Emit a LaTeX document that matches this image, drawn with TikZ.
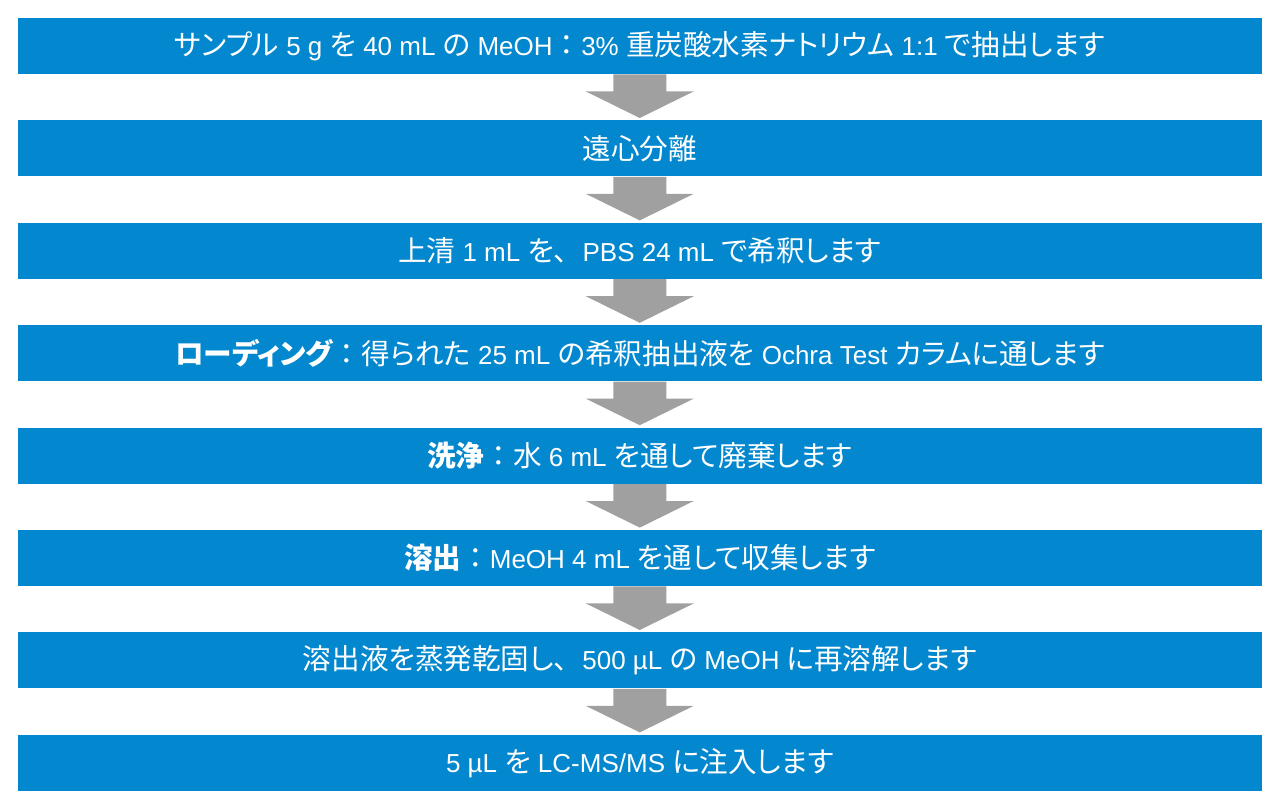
\documentclass[tikz,border=0pt]{standalone}
\usepackage{fontspec}
\setmainfont{Liberation Sans}
\newfontfamily\jpfont{Noto Sans CJK JP}[RawFeature=+palt, Scale=1.1]
\newfontfamily\jpfull{Noto Sans CJK JP}[Scale=1.1]
\usetikzlibrary{calc}
\definecolor{stepblue}{RGB}{3,135,206}
\definecolor{arrowgray}{RGB}{160,160,160}
\newcommand\jf[1]{{\jpfont #1}}
\newcommand\jp[1]{{\jpfull #1}}
\tikzset{
  stepbox/.style={fill=stepblue, draw=none, minimum width=622.25pt, minimum height=28pt,
    inner sep=0pt, text=white, font=\fontsize{13}{15}\selectfont},
  blockarrow/.style={fill=arrowgray, draw=none}
}
\begin{document}
\begin{tikzpicture}[x=0.5pt,y=-0.5pt]
\useasboundingbox (0,0) rectangle (1280,809);
\fill[white] (0,0) rectangle (1280,809);
\node[stepbox] (b1) at (639.75,46) {\jf{サンプル} 5 g \jf{を} 40 mL \jf{の} MeOH\jp{：}3\% \jf{重炭酸水素ナトリウム} 1:1 \jf{で抽出します}};
\node[stepbox] (b2) at (639.75,148.4) {\jf{遠心分離}};
\node[stepbox] (b3) at (639.75,250.8) {\jf{上清} 1 mL \jf{を}\jp{、}PBS 24 mL \jf{で希釈します}};
\node[stepbox] (b4) at (639.75,353.2) {\textbf{\jf{ローディング}}\jp{：}\jf{得られた} 25 mL \jf{の希釈抽出液を} Ochra Test \jf{カラムに通します}};
\node[stepbox] (b5) at (639.75,455.6) {\textbf{\jf{洗浄}}\jp{：}\jf{水} 6 mL \jf{を通して廃棄します}};
\node[stepbox] (b6) at (639.75,558) {\textbf{\jf{溶出}}\jp{：}MeOH 4 mL \jf{を通して収集します}};
\node[stepbox] (b7) at (639.75,660.4) {\jf{溶出液を蒸発乾固し}\jp{、}500 µL \jf{の} MeOH \jf{に再溶解します}};
\node[stepbox] (b8) at (639.75,762.8) {5 µL \jf{を} LC-MS/MS \jf{に注入します}};
\foreach \a/\b in {b1/b2,b2/b3,b3/b4,b4/b5,b5/b6,b6/b7,b7/b8}{
  \fill[blockarrow] ($(\a.south)+(-26.5,0)$) -- ($(\a.south)+(26.5,0)$) -- ($(\a.south)+(26.5,17)$)
    -- ($(\a.south)+(54,17)$) -- ($(\b.north)+(0,-2)$) -- ($(\a.south)+(-54,17)$)
    -- ($(\a.south)+(-26.5,17)$) -- cycle;
}
\end{tikzpicture}
\end{document}
